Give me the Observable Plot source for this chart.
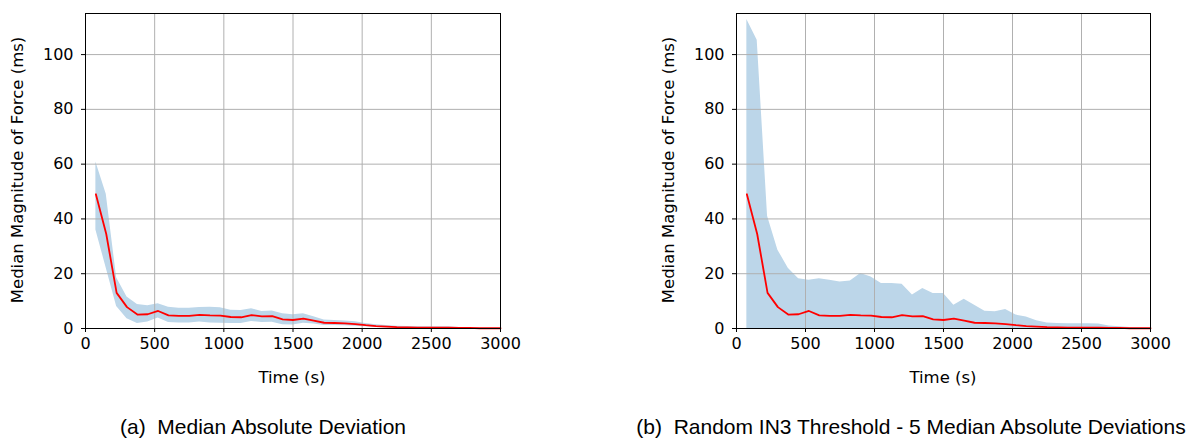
<!DOCTYPE html>
<html>
<head>
<meta charset="utf-8">
<script src="https://cdn.jsdelivr.net/npm/d3@7"></script>
<script src="https://cdn.jsdelivr.net/npm/@observablehq/plot@0.6"></script>
<style>
  body { margin: 0; background: #fff; }
  #root { position: relative; width: 1194px; height: 439px; overflow: hidden; }
  .panel { position: absolute; top: 0; }
  .caption { position: absolute; font-family: "Liberation Sans", Arial, sans-serif; font-size: 21px; line-height: 21px; color: #000; white-space: pre; transform: translateX(-50%); top: 416px; }
  .lab { position: absolute; font-family: "DejaVu Sans", sans-serif; font-size: 16.5px; line-height: 16px; color: #000; white-space: pre; }
  .xlab { transform: translate(-50%, -50%); }
  .ylab { transform: translate(-50%, -50%) rotate(-90deg); }
</style>
</head>
<body>
<div id="root"></div>
<script>
const times = [75,150,225,300,375,450,525,600,675,750,825,900,975,1050,1125,1200,1275,1350,1425,1500,
  1575,1650,1725,1800,1875,1950,2025,2100,2175,2250,2325,2400,2475,2550,2625,2700,2775,2850,2925,3000];
const median = [49.0,34.5,13.0,7.8,5.1,5.2,6.4,4.8,4.6,4.6,5.0,4.8,4.7,4.2,4.1,4.9,4.4,4.5,3.3,3.1,
  3.6,2.9,2.1,2.0,1.9,1.6,1.2,0.9,0.7,0.5,0.4,0.3,0.3,0.3,0.3,0.2,0.2,0.1,0.1,0.1];
const madLower = [36,22,8,3.6,1.8,2.4,3.8,2.2,2.0,2.0,2.4,2.0,1.9,1.8,1.8,2.6,2.2,2.3,1.4,1.3,
  1.9,1.6,1.1,1.1,1.0,0.8,0.6,0.4,0.3,0.2,0.1,0.1,0.1,0.1,0.1,0.1,0.05,0.05,0.05,0.05];
const madUpper = [60.8,49,18.5,11.5,8.8,8.3,9.0,7.8,7.4,7.4,7.7,7.8,7.6,6.7,6.6,7.2,6.2,6.4,5.4,5.0,
  5.4,4.3,3.1,2.9,2.7,2.5,1.8,1.4,1.1,0.8,0.7,0.6,0.6,0.6,0.6,0.4,0.3,0.2,0.2,0.2];
const in3Lower = [0,0,0,0,0,0,0,0,0,0,0,0,0,0,0,0,0,0,0,0,0,0,0,0,0,0,0,0,0,0,0,0,0,0,0,0,0,0,0,0];
const in3Upper = [112.8,105.2,41,28.6,22,18.2,17.6,18.2,17.6,17.0,17.3,20.1,18.8,16.4,16.4,16.2,12.2,14.6,12.8,12.8,
  8.5,10.7,8.5,6.3,6.1,6.9,4.9,4.2,2.8,2.0,1.8,1.7,1.7,1.7,1.6,0.9,0.6,0.4,0.3,0.2];
const xTicks = [0,500,1000,1500,2000,2500,3000];
const yTicks = [0,20,40,60,80,100];
const xLabel = "Time (s)";
const yLabel = "Median Magnitude of Force (ms)";
const captions = ["(a)  Median Absolute Deviation", "(b)  Random IN3 Threshold - 5 Median Absolute Deviations"];

function panel(lower, upper, marginLeft, marginRight) {
  const data = times.map((t, i) => ({t, m: median[i], lo: lower[i], hi: upper[i]}));
  return Plot.plot({
    width: 597,
    height: 395,
    marginTop: 13,
    marginBottom: 67,
    marginLeft,
    marginRight,
    style: {fontFamily: "DejaVu Sans", fontSize: "16px", color: "#000", background: "transparent"},
    x: {domain: [0, 3000]},
    y: {domain: [0, 115]},
    marks: [
      Plot.areaY(data, {x: "t", y1: "lo", y2: "hi", fill: "rgb(188,214,233)"}),
      Plot.gridX(xTicks, {stroke: "#b0b0b0", strokeOpacity: 1, strokeWidth: 1}),
      Plot.gridY(yTicks, {stroke: "#b0b0b0", strokeOpacity: 1, strokeWidth: 1}),
      Plot.lineY(data, {x: "t", y: "m", stroke: "red", strokeWidth: 1.8}),
      Plot.frame({stroke: "#000", strokeWidth: 1}),
      Plot.axisX({ticks: xTicks, tickSize: 4, tickPadding: 5, tickFormat: d => String(d), label: null}),
      Plot.axisY({ticks: yTicks, tickSize: 4, tickPadding: 8, tickFormat: d => String(d), label: null})
    ]
  });
}

const root = document.getElementById("root");
function addDiv(cls, text, x, y) {
  const d = document.createElement("div");
  d.className = cls; d.textContent = text;
  d.style.left = x + "px"; d.style.top = y + "px";
  root.appendChild(d);
}

const left = panel(madLower, madUpper, 85, 97);
left.classList.add("panel"); left.style.left = "0px";
root.appendChild(left);
const right = panel(in3Lower, in3Upper, 139, 44);
right.classList.add("panel"); right.style.left = "597px";
root.appendChild(right);

addDiv("lab xlab", xLabel, 292, 378);
addDiv("lab xlab", xLabel, 943, 378);
addDiv("lab ylab", yLabel, 18, 170);
addDiv("lab ylab", yLabel, 669, 170);

const c1 = document.createElement("div");
c1.className = "caption"; c1.textContent = captions[0]; c1.style.left = "263px";
root.appendChild(c1);
const c2 = document.createElement("div");
c2.className = "caption"; c2.textContent = captions[1]; c2.style.left = "911px";
root.appendChild(c2);
</script>
</body>
</html>
